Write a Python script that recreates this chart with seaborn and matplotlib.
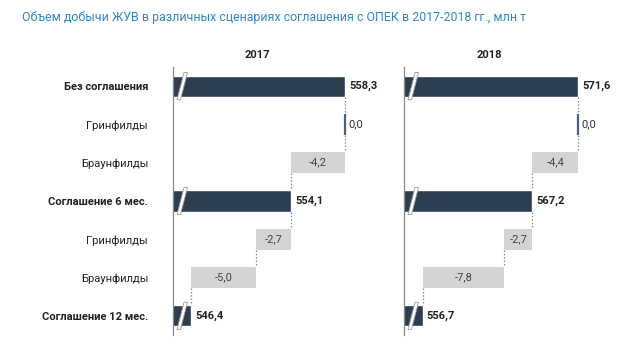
import matplotlib
matplotlib.use("Agg")
import matplotlib.pyplot as plt
import seaborn as sns
import pandas as pd
from matplotlib.patches import Polygon
import matplotlib.transforms as mtransforms

sns.set_style("white")
plt.rcParams['font.family'] = ['Roboto', 'DejaVu Sans']

title = "Объем добычи ЖУВ в различных сценариях соглашения с ОПЕК в 2017-2018 гг., млн т"
categories = ["Без соглашения", "Гринфилды", "Браунфилды", "Соглашение 6 мес.",
              "Гринфилды", "Браунфилды", "Соглашение 12 мес."]
is_total = [True, False, False, True, False, False, True]
years = ["2017", "2018"]
values_2017 = [558.3, 0.0, -4.2, 554.1, -2.7, -5.0, 546.4]
values_2018 = [571.6, 0.0, -4.4, 567.2, -2.7, -7.8, 556.7]
xlims = {"2017": (545.0, 561.75), "2018": (554.9, 575.7)}

DARK = "#2c3e50"
GRAY = "#d4d4d4"
TEXT = "#222222"
BAR_H = 0.55
FS = 8

fig = plt.figure(figsize=(6.4, 3.6), dpi=100)
fig.text(22 / 640, 1 - 18 / 360, title, color="#2f87c6", fontsize=8.9,
         ha="left", va="center")

bottom = 1 - 335 / 360
height = (335 - 67) / 360
panels = [(173 / 640, 217 / 640), (404 / 640, 217 / 640)]
title_x = [257, 489]

for k, (year, vals) in enumerate(zip(years, [values_2017, values_2018])):
    ax = fig.add_axes([panels[k][0], bottom, panels[k][1], height])
    rows = list(range(len(categories)))
    df = pd.DataFrame({"row": rows, "value": vals, "total": is_total})
    tot = df[df.total]
    sns.barplot(data=tot, x="value", y="row", order=rows, orient="h",
                color=DARK, width=BAR_H, saturation=1, ax=ax)

    # level before and after each row of the waterfall
    level, after = [], []
    cur = None
    for v, t in zip(vals, is_total):
        if t:
            cur = v
        level.append(cur)
        if not t:
            cur = cur + v
        after.append(cur)

    lo, hi = xlims[year]
    unit = (hi - lo) / 217  # data units per pixel
    ax.set_xlim(lo, hi)
    ax.set_ylim(len(categories) - 0.5, -0.5)

    for i, (v, t) in enumerate(zip(vals, is_total)):
        lab = f"{v:.1f}".replace(".", ",")
        if t:
            ax.text(v + 4 * unit, i, lab, ha="left", va="center",
                    fontsize=FS, fontweight="bold", color=TEXT)
        elif v == 0:
            ax.plot([level[i], level[i]], [i - BAR_H / 2, i + BAR_H / 2],
                    color="#3f6389", lw=1.6, solid_capstyle="butt")
            ax.text(level[i] + 3 * unit, i, lab, ha="left", va="center",
                    fontsize=FS, color="#333333")
        else:
            ax.barh(i, v, left=level[i], height=BAR_H, color=GRAY, edgecolor="none")
            ax.text(level[i] + v / 2, i, lab, ha="center", va="center",
                    fontsize=FS, color="#444444")

    # dotted connectors
    for i in range(len(categories) - 1):
        ax.plot([after[i], after[i]], [i + BAR_H / 2, i + 1 - BAR_H / 2],
                color="#888888", lw=0.9, ls=(0, (1.2, 1.5)))

    # break marks on total bars
    trans = mtransforms.blended_transform_factory(ax.transAxes, ax.transData)
    for i, t in enumerate(is_total):
        if not t:
            continue
        x0, dx, w = 4 / 217, 7 / 217, 3.5 / 217
        ext = BAR_H / 2 + 0.08
        poly = Polygon([[x0, i + ext], [x0 + w, i + ext],
                        [x0 + w + dx, i - ext], [x0 + dx, i - ext]],
                       closed=True, facecolor="white", edgecolor="#9a9a9a",
                       lw=0.6, transform=trans, zorder=5)
        ax.add_patch(poly)

    ax.set_xlabel("")
    ax.set_ylabel("")
    ax.set_xticks([])
    for s in ["top", "right", "bottom"]:
        ax.spines[s].set_visible(False)
    ax.spines["left"].set_color("#888888")
    ax.spines["left"].set_linewidth(0.9)
    ax.spines["left"].set_zorder(6)

    if k == 0:
        ax.set_yticks(rows)
        ax.set_yticklabels(categories, fontsize=FS, color=TEXT)
        for lab, t in zip(ax.get_yticklabels(), is_total):
            if t:
                lab.set_fontweight("bold")
        ax.tick_params(axis="y", length=0, pad=18)
    else:
        ax.set_yticks([])

    fig.text(title_x[k] / 640, 1 - 55 / 360, year, ha="center", va="center",
             fontsize=FS, fontweight="bold", color=TEXT)

fig.savefig("out.png", dpi=100)
